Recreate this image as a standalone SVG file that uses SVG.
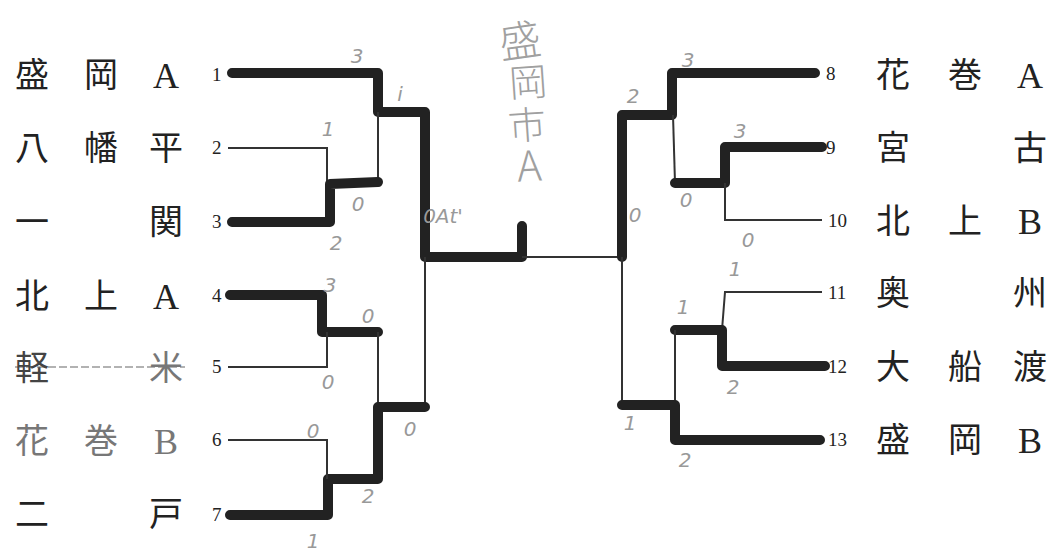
<svg xmlns="http://www.w3.org/2000/svg" width="1047" height="551" viewBox="0 0 1047 551">
<style>
.bg{fill:#ffffff}
.name{font-family:"Noto Sans CJK JP","Liberation Serif",serif;font-size:34px;fill:#222;text-anchor:middle}
.lat{font-family:"Liberation Serif","Noto Sans CJK JP",serif;font-size:36px;fill:#222;text-anchor:middle}
.gray{fill:#777}
.mid{fill:#444}
.num{font-family:"Liberation Serif",serif;font-size:19px;fill:#222}
.thick{fill:none;stroke:#222;stroke-width:10;stroke-linecap:round;stroke-linejoin:round}
.thin{fill:none;stroke:#333;stroke-width:2}
.hw{font-family:"DejaVu Sans","Noto Sans CJK JP",sans-serif;font-size:20px;fill:#999;text-anchor:middle;font-style:italic;font-weight:300}
.hwbig{font-family:"Noto Sans CJK JP",sans-serif;fill:#a0a0a0;text-anchor:middle;font-weight:300}
</style>
<rect class="bg" x="0" y="0" width="1047" height="551"/>

<g id="connectors">
  <path class="thick" d="M232,73 L378,73 L378,112 L425,112 L425,257 L522,257 L522,226"/>
  <path class="thin" d="M378,112 L378,182"/>
  <path class="thin" d="M228,148 L327,148 L327,184"/>
  <path class="thick" d="M232,222 L330,222 L330,184 L378,182"/>
  <path class="thin" d="M522,257 L622,257"/>
  <path class="thin" d="M425,257 L425,407"/>
  <path class="thick" d="M230,295 L322,295 L322,332 L378,332"/>
  <path class="thin" d="M228,367 L327,367 L327,332"/>
  <path class="thin" d="M378,332 L378,407"/>
  <path class="thick" d="M425,407 L378,407 L378,479 L328,479 L328,515 L230,515"/>
  <path class="thin" d="M228,440 L327,440 L327,479"/>
  <path class="thick" d="M815,73 L672,73 L672,115 L622,115 L622,257"/>
  <path class="thin" d="M673,115 L675,183"/>
  <path class="thick" d="M822,147 L725,147 L725,183 L675,183"/>
  <path class="thin" d="M725,183 L725,220 L822,220"/>
  <path class="thin" d="M822,292 L725,292 L722,330"/>
  <path class="thick" d="M825,366 L722,366 L722,330 L675,330"/>
  <path class="thin" d="M675,330 L675,405"/>
  <path class="thin" d="M622,257 L622,405"/>
  <path class="thick" d="M820,440 L675,440 L675,405 L622,405"/>
  <line x1="15" y1="367" x2="185" y2="367" stroke="#999" stroke-width="1.5" stroke-dasharray="8,3"/>
</g>

<g id="team1"><text class="name" x="32" y="87">盛</text><text class="name" x="101" y="87">岡</text><text class="lat" x="166" y="88">A</text><text class="num" x="212" y="81">1</text></g>
<g id="team2"><text class="name" x="32" y="160">八</text><text class="name" x="101" y="160">幡</text><text class="name" x="166" y="160">平</text><text class="num" x="212" y="154">2</text></g>
<g id="team3"><text class="name" x="32" y="234">一</text><text class="name" x="166" y="234">関</text><text class="num" x="212" y="228">3</text></g>
<g id="team4"><text class="name" x="32" y="308">北</text><text class="name" x="101" y="308">上</text><text class="lat" x="166" y="309">A</text><text class="num" x="212" y="302">4</text></g>
<g id="team5"><text class="name mid" x="32" y="380">軽</text><text class="name gray" x="166" y="380">米</text><text class="num" x="212" y="373">5</text></g>
<g id="team6"><text class="name gray" x="32" y="453">花</text><text class="name gray" x="101" y="453">巻</text><text class="lat gray" x="166" y="454">B</text><text class="num" x="212" y="446">6</text></g>
<g id="team7"><text class="name" x="32" y="526">二</text><text class="name" x="166" y="526">戸</text><text class="num" x="212" y="521">7</text></g>

<g id="team8"><text class="num" x="826" y="80">8</text><text class="name" x="893" y="87">花</text><text class="name" x="965" y="87">巻</text><text class="lat" x="1030" y="88">A</text></g>
<g id="team9"><text class="num" x="826" y="154">9</text><text class="name" x="893" y="160">宮</text><text class="name" x="1030" y="160">古</text></g>
<g id="team10"><text class="num" x="828" y="227">10</text><text class="name" x="893" y="233">北</text><text class="name" x="965" y="233">上</text><text class="lat" x="1030" y="234">B</text></g>
<g id="team11"><text class="num" x="828" y="299">11</text><text class="name" x="893" y="305">奥</text><text class="name" x="1030" y="305">州</text></g>
<g id="team12"><text class="num" x="828" y="373">12</text><text class="name" x="893" y="379">大</text><text class="name" x="965" y="379">船</text><text class="name" x="1030" y="379">渡</text></g>
<g id="team13"><text class="num" x="828" y="446">13</text><text class="name" x="893" y="452">盛</text><text class="name" x="965" y="452">岡</text><text class="lat" x="1030" y="453">B</text></g>

<g id="winner">
  <text class="hwbig" font-size="42" transform="translate(522,56) rotate(-8)" x="0" y="0">盛</text>
  <text class="hwbig" font-size="38" transform="translate(529,96) rotate(-4)" x="0" y="0">岡</text>
  <text class="hwbig" font-size="38" transform="translate(528,139) rotate(-4)" x="0" y="0">市</text>
  <text class="hwbig" font-size="42" transform="translate(530,181) rotate(-3)" x="0" y="0">A</text>
</g>

<g id="scores">
  <text class="hw" x="357" y="63">3</text>
  <text class="hw" x="400" y="101">i</text>
  <text class="hw" x="328" y="136">1</text>
  <text class="hw" x="358" y="211">0</text>
  <text class="hw" x="336" y="250" font-size="26">2</text>
  <text class="hw" x="443" y="223" font-size="16">0At'</text>
  <text class="hw" x="330" y="292">3</text>
  <text class="hw" x="368" y="323">0</text>
  <text class="hw" x="328" y="389" font-size="16">0</text>
  <text class="hw" x="410" y="436">0</text>
  <text class="hw" x="313" y="438">0</text>
  <text class="hw" x="368" y="503" font-size="16">2</text>
  <text class="hw" x="313" y="548">1</text>
  <text class="hw" x="688" y="67">3</text>
  <text class="hw" x="633" y="103">2</text>
  <text class="hw" x="686" y="207">0</text>
  <text class="hw" x="740" y="138">3</text>
  <text class="hw" x="635" y="222">0</text>
  <text class="hw" x="748" y="247">0</text>
  <text class="hw" x="735" y="276">1</text>
  <text class="hw" x="683" y="314">1</text>
  <text class="hw" x="733" y="394">2</text>
  <text class="hw" x="630" y="430">1</text>
  <text class="hw" x="685" y="467">2</text>
</g>
</svg>
